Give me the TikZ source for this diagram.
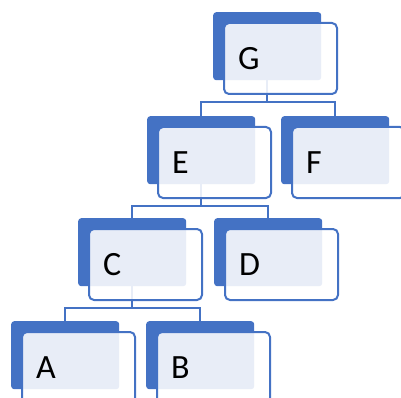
\documentclass[tikz,border=0pt]{standalone}
\usepackage{fontspec}
\setmainfont{Carlito}
\usepackage{xcolor}
\definecolor{smartblue}{HTML}{4472C4}

\tikzset{
  backbox/.style={rectangle, anchor=north west, fill=smartblue, rounded corners=3pt,
    minimum width=108pt, minimum height=68pt, inner sep=0pt},
  frontbox/.style={rectangle, anchor=north west, draw=smartblue, line width=2pt,
    fill=white, fill opacity=0.88, text opacity=1, rounded corners=5pt,
    minimum width=113pt, minimum height=71pt, inner xsep=14pt, inner ysep=0pt,
    text width=85pt, align=left, font=\fontsize{34}{34}\selectfont},
  conn/.style={draw=smartblue, line width=2pt}
}

\begin{document}
\begin{tikzpicture}[x=1pt,y=-1pt]
  \clip (0,0) rectangle (401,398);

  % Back boxes
  \foreach \n/\x/\y in {G/213/12, E/147/116, F/281/116, C/78/218, D/214/218, A/11/321, B/146/321}
    \node[backbox] (\n b) at (\x,\y) {};

  % Connectors
  \foreach \p/\c in {G/E, G/F, E/C, E/D, C/A, C/B}
    \draw[conn] (\p b.south) -- ++(0,22) -| (\c b.north);

  % Front boxes with the letters
  \foreach \n in {G,E,F,C,D,A,B}
    \node[frontbox] (\n) at ([shift={(10,10)}]\n b.north west) {\n};
\end{tikzpicture}
\end{document}
